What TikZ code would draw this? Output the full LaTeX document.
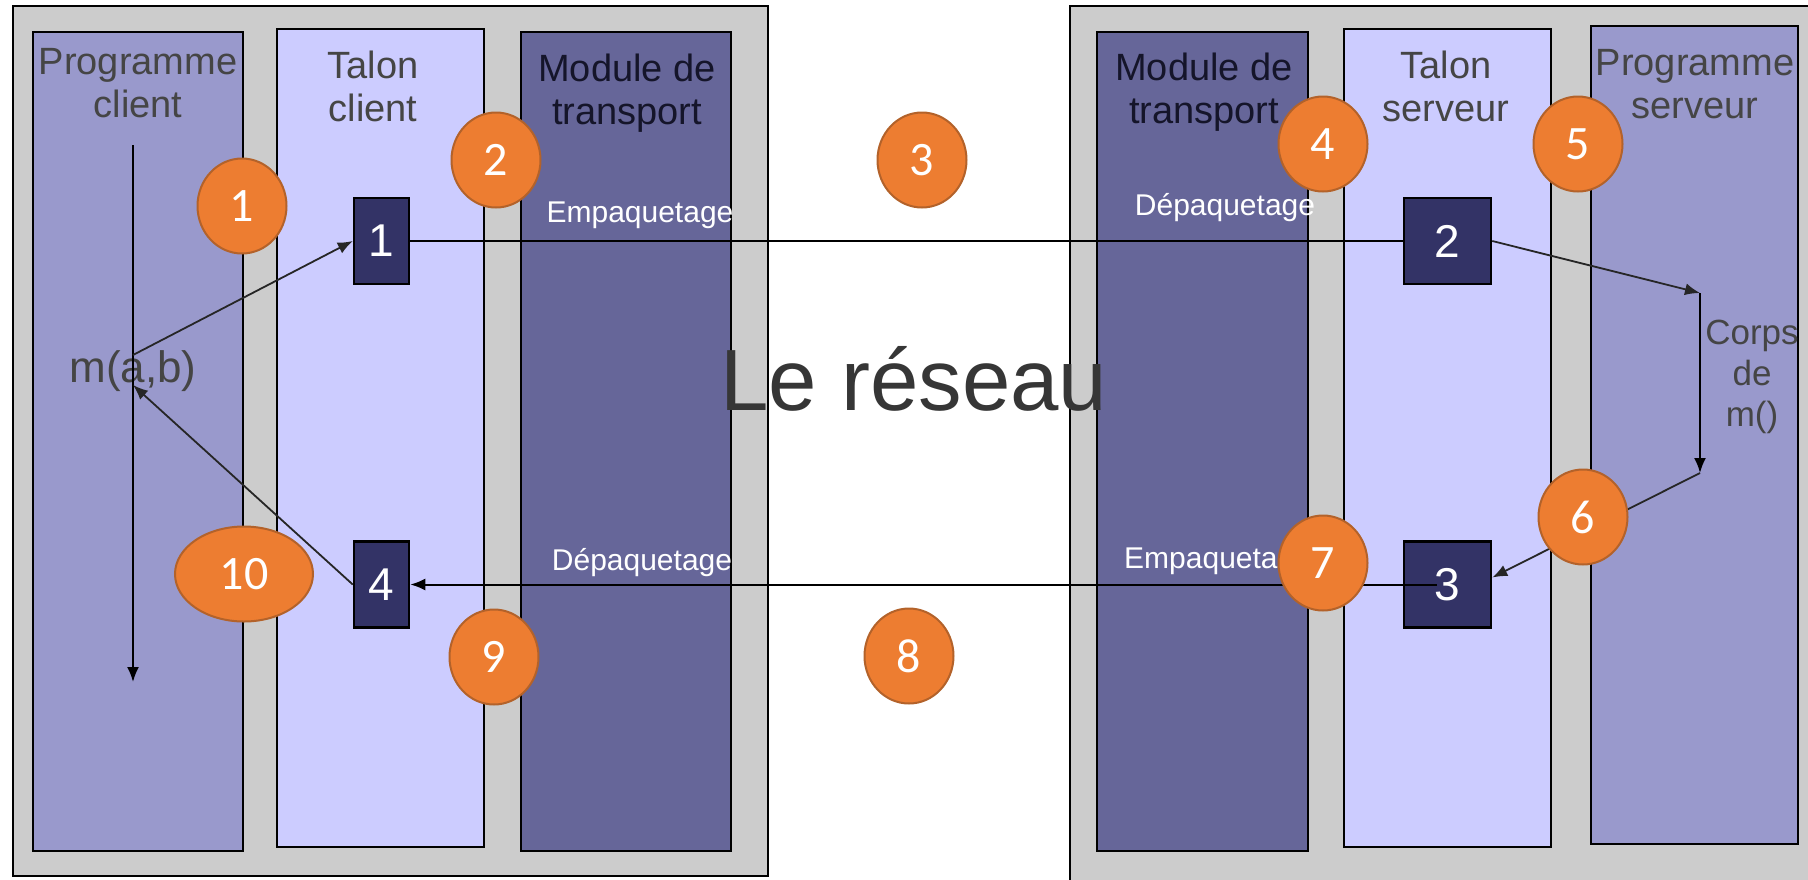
\documentclass[tikz,border=0pt]{standalone}
\usepackage{fontspec}
\setmainfont{Liberation Sans}
\newfontfamily\badgefont{Carlito}
\usetikzlibrary{arrows.meta,calc,shapes.geometric}

\definecolor{panelgray}{HTML}{CCCCCC}
\definecolor{progcol}{HTML}{9999CC}
\definecolor{taloncol}{HTML}{CCCCFF}
\definecolor{modcol}{HTML}{666699}
\definecolor{boxcol}{HTML}{333366}
\definecolor{badgefill}{HTML}{ED7D31}
\definecolor{badgeedge}{HTML}{B3622A}
\definecolor{headtxt}{HTML}{454545}
\definecolor{modtxt}{HTML}{15152A}
\definecolor{bigtxt}{HTML}{363636}

\tikzset{
  panel/.style={draw=black, line width=2.5pt, fill=panelgray},
  column/.style={draw=black, line width=2.5pt},
  head/.style={align=center, inner sep=0pt, anchor=north, font=\fontsize{38}{43}\selectfont},
  msgbox/.style={draw=black, line width=2.5pt, fill=boxcol, text=white, inner sep=0pt,
    minimum height=86, font=\fontsize{46}{46}\selectfont},
  badge/.style={ellipse, fill=badgefill, draw=badgeedge, line width=2pt, inner sep=0pt,
    minimum width=89, minimum height=95, text=white, font=\badgefont\fontsize{48}{48}\selectfont},
  pack/.style={text=white, inner sep=0pt, anchor=base, font=\fontsize{30}{30}\selectfont},
  flow/.style={line width=2pt, -{Latex[length=15pt,width=12pt]}},
  thinflow/.style={line width=1.8pt, draw=black!85, -{Latex[length=15pt,width=12pt]}},
}

\begin{document}
\begin{tikzpicture}[x=1pt,y=-1pt]
\useasboundingbox (0,0) rectangle (1808,879);
\clip (0,0) rectangle (1808,879);
\fill[white] (0,0) rectangle (1808,879);

% client side
\draw[panel] (13,6) rectangle (768,876);
\draw[column, fill=progcol] (33,32) rectangle (243,851);
\draw[column, fill=taloncol] (277,29) rectangle (484,847);
\draw[column, fill=modcol] (521,32) rectangle (731,851);

% server side
\draw[panel] (1070,6) rectangle (1840,920);
\draw[column, fill=modcol] (1097,32) rectangle (1308,851);
\draw[column, fill=taloncol] (1344,29) rectangle (1551,847);
\draw[column, fill=progcol] (1591,26) rectangle (1798,844);

% column titles
\node[head, text=headtxt] (hpc) at (138,48) {Programme\\client};
\node[head, text=headtxt] (htc) at (373,51) {Talon\\client};
\node[head, text=modtxt] (hmc) at (627,54) {Module de\\transport};
\node[head, text=modtxt] (hms) at (1204,53) {Module de\\transport};
\node[head, text=headtxt] (hts) at (1446,51) {Talon\\serveur};
\node[head, text=headtxt] (hps) at (1695,49) {Programme\\serveur};

% call and network
\node[anchor=base, inner sep=0pt, text=headtxt, font=\fontsize{44}{44}\selectfont] (mab) at (133,382) {m(a,b)};
\node[anchor=base, inner sep=0pt, text=bigtxt, font=\fontsize{87}{87}\selectfont] (net) at (914,410) {Le réseau};

% packing labels
\node[pack] (pk1) at (640,222) {Empaquetage};
\node[pack] (dp1) at (642,570) {Dépaquetage};
\node[pack] (dp2) at (1225,215) {Dépaquetage};
\node[pack, anchor=base west] (pk2) at (1124,568) {Empaquetage};

% body of the remote method
\begin{scope}
  \clip (1591,26) rectangle (1797,844);
  \node[head, font=\fontsize{35}{41}\selectfont, text=headtxt] (corps) at (1752,320) {Corps\\de\\m()};
\end{scope}

% message steps
\node[msgbox, minimum width=55] (b1) at (381.5,241) {1};
\node[msgbox, minimum width=87] (b2) at (1447.5,241) {2};
\node[msgbox, minimum width=87] (b3) at (1447.5,584.5) {3};
\node[msgbox, minimum width=55] (b4) at (381.5,584.5) {4};

% connectors
\coordinate (ctop) at (133,145);
\coordinate (cbot) at (133,682);
\coordinate (mout) at (133,355);
\coordinate (min) at (133,385);
\coordinate (k1) at (1700,293);
\coordinate (k2) at (1700,473);
\coordinate (b3in) at (1437,584.5);

\draw[flow] (ctop) -- (cbot);
\draw[line width=2pt] (b1.east) -- (b2.west);
\draw[flow] (b3in) -- (b4.east);
\draw[thinflow] (mout) -- (b1.west);
\draw[thinflow] (b4.west) -- (min);
\draw[thinflow] (b2.east) -- (k1);
\draw[flow] (k1) -- (k2);
\draw[thinflow] (k2) -- ($(b3.east)+(0,-7)$);

% numbered steps
\node[badge] (n1) at (242,206) {1};
\node[badge] (n2) at (496,160) {2};
\node[badge] (n3) at (922,160) {3};
\node[badge] (n4) at (1323,144) {4};
\node[badge] (n5) at (1578,144) {5};
\node[badge] (n6) at (1583,517) {6};
\node[badge] (n7) at (1323,563) {7};
\node[badge] (n8) at (909,656) {8};
\node[badge] (n9) at (494,657) {9};
\node[badge, minimum width=138] (n10) at (244,574) {10};
\end{tikzpicture}
\end{document}
